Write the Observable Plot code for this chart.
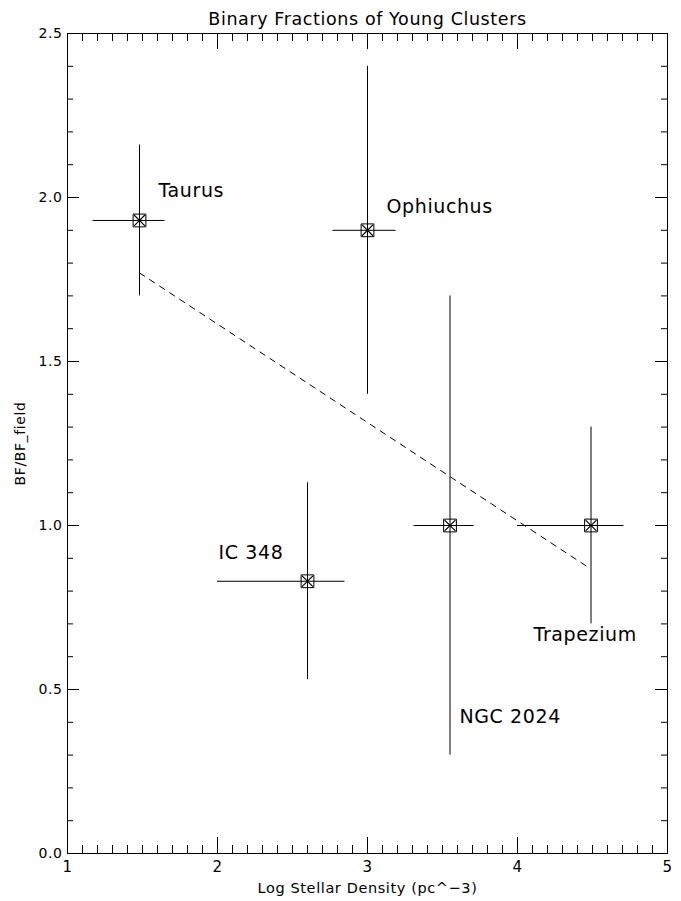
<!DOCTYPE html>
<html><head><meta charset="utf-8">
<script src="https://cdn.jsdelivr.net/npm/d3@7"></script>
<script src="https://cdn.jsdelivr.net/npm/@observablehq/plot@0.6"></script>
<style>body{margin:0;background:#fff} svg{display:block} svg text{letter-spacing:0.6px}</style>
</head><body><div id="chart"></div>
<script>
const clusters = ["Taurus", "Ophiuchus", "IC 348", "NGC 2024", "Trapezium"];
const logDensity = [1.48, 3.0, 2.6, 3.55, 4.49];
const densityLow = [1.17, 2.77, 2.0, 3.31, 4.0];
const densityHigh = [1.65, 3.19, 2.85, 3.71, 4.71];
const bfRatio = [1.93, 1.90, 0.83, 1.0, 1.0];
const bfLow = [1.70, 1.40, 0.53, 0.30, 0.70];
const bfHigh = [2.16, 2.40, 1.13, 1.70, 1.30];
const labelX = [1.607, 3.127, 2.007, 3.613, 4.107];
const labelY = [2.02, 1.97, 0.915, 0.415, 0.665];
const fitX = [1.48, 4.48];
const fitY = [1.77, 0.87];
const xTicks = [1, 2, 3, 4, 5];
const yTicks = [0, 0.5, 1.0, 1.5, 2.0, 2.5];
const xMinor = d3.range(11, 50).map(d => d / 10).filter(d => !xTicks.includes(d));
const yMinor = d3.range(1, 25).map(d => d / 10).filter(d => !yTicks.some(t => Math.abs(t - d) < 1e-9));

const data = clusters.map((name, i) => ({
  name, x: logDensity[i], x1: densityLow[i], x2: densityHigh[i],
  y: bfRatio[i], y1: bfLow[i], y2: bfHigh[i], lx: labelX[i], ly: labelY[i]
}));
const fit = fitX.map((x, i) => ({x, y: fitY[i]}));

const W = 681, H = 901, mt = 33, mr = 14, mb = 48, ml = 67;
const iw = W - ml - mr, ih = H - mt - mb;

const chart = Plot.plot({
  width: W, height: H,
  marginTop: mt, marginRight: mr, marginBottom: mb, marginLeft: ml,
  style: {fontFamily: "DejaVu Sans", fontSize: "14px", background: "#fff", color: "#000"},
  x: {domain: [1, 5], axis: null},
  y: {domain: [0, 2.5], axis: null},
  marks: [
    Plot.frame({stroke: "#000"}),
    // inward ticks
    Plot.tickX(xTicks, {x: d => d, insetTop: ih - 16, stroke: "#000"}),
    Plot.tickX(xTicks, {x: d => d, insetBottom: ih - 16, stroke: "#000"}),
    Plot.tickX(xMinor, {x: d => d, insetTop: ih - 8, stroke: "#000"}),
    Plot.tickX(xMinor, {x: d => d, insetBottom: ih - 8, stroke: "#000"}),
    Plot.tickY(yTicks, {y: d => d, insetRight: iw - 12, stroke: "#000"}),
    Plot.tickY(yTicks, {y: d => d, insetLeft: iw - 12, stroke: "#000"}),
    Plot.tickY(yMinor, {y: d => d, insetRight: iw - 6, stroke: "#000"}),
    Plot.tickY(yMinor, {y: d => d, insetLeft: iw - 6, stroke: "#000"}),
    Plot.axisX(xTicks, {tickSize: 0, tickPadding: 8, fontSize: 15, label: null, tickFormat: d3.format("d")}),
    Plot.axisY(yTicks, {tickSize: 0, tickPadding: 5, fontSize: 14, label: null, tickFormat: d3.format(".1f")}),
    // axis titles and title
    Plot.text(["Log Stellar Density (pc^\u22123)"], {frameAnchor: "bottom", dy: 39, fontSize: 14.5}),
    Plot.text(["BF/BF_field"], {frameAnchor: "left", textAnchor: "middle", lineAnchor: "middle", dx: -47, rotate: -90, fontSize: 14}),
    Plot.text(["Binary Fractions of Young Clusters"], {frameAnchor: "top", dy: -21, fontSize: 17.5}),
    // fit line
    Plot.line(fit, {x: "x", y: "y", stroke: "#000", strokeWidth: 1, strokeDasharray: "6,6"}),
    // error bars
    Plot.ruleX(data, {x: "x", y1: "y1", y2: "y2", stroke: "#000", strokeWidth: 1}),
    Plot.ruleY(data, {y: "y", x1: "x1", x2: "x2", stroke: "#000", strokeWidth: 1}),
    // markers
    Plot.dot(data, {x: "x", y: "y", symbol: "square", r: 7.2, stroke: "#000", fill: "none", strokeWidth: 1}),
    Plot.dot(data, {x: "x", y: "y", symbol: "times", r: 5, stroke: "#000", strokeWidth: 1.2}),
    // labels
    Plot.text(data, {x: "lx", y: "ly", text: "name", textAnchor: "start", fontSize: 19, fill: "#000"})
  ]
});
document.getElementById("chart").appendChild(chart);
</script>
</body></html>
